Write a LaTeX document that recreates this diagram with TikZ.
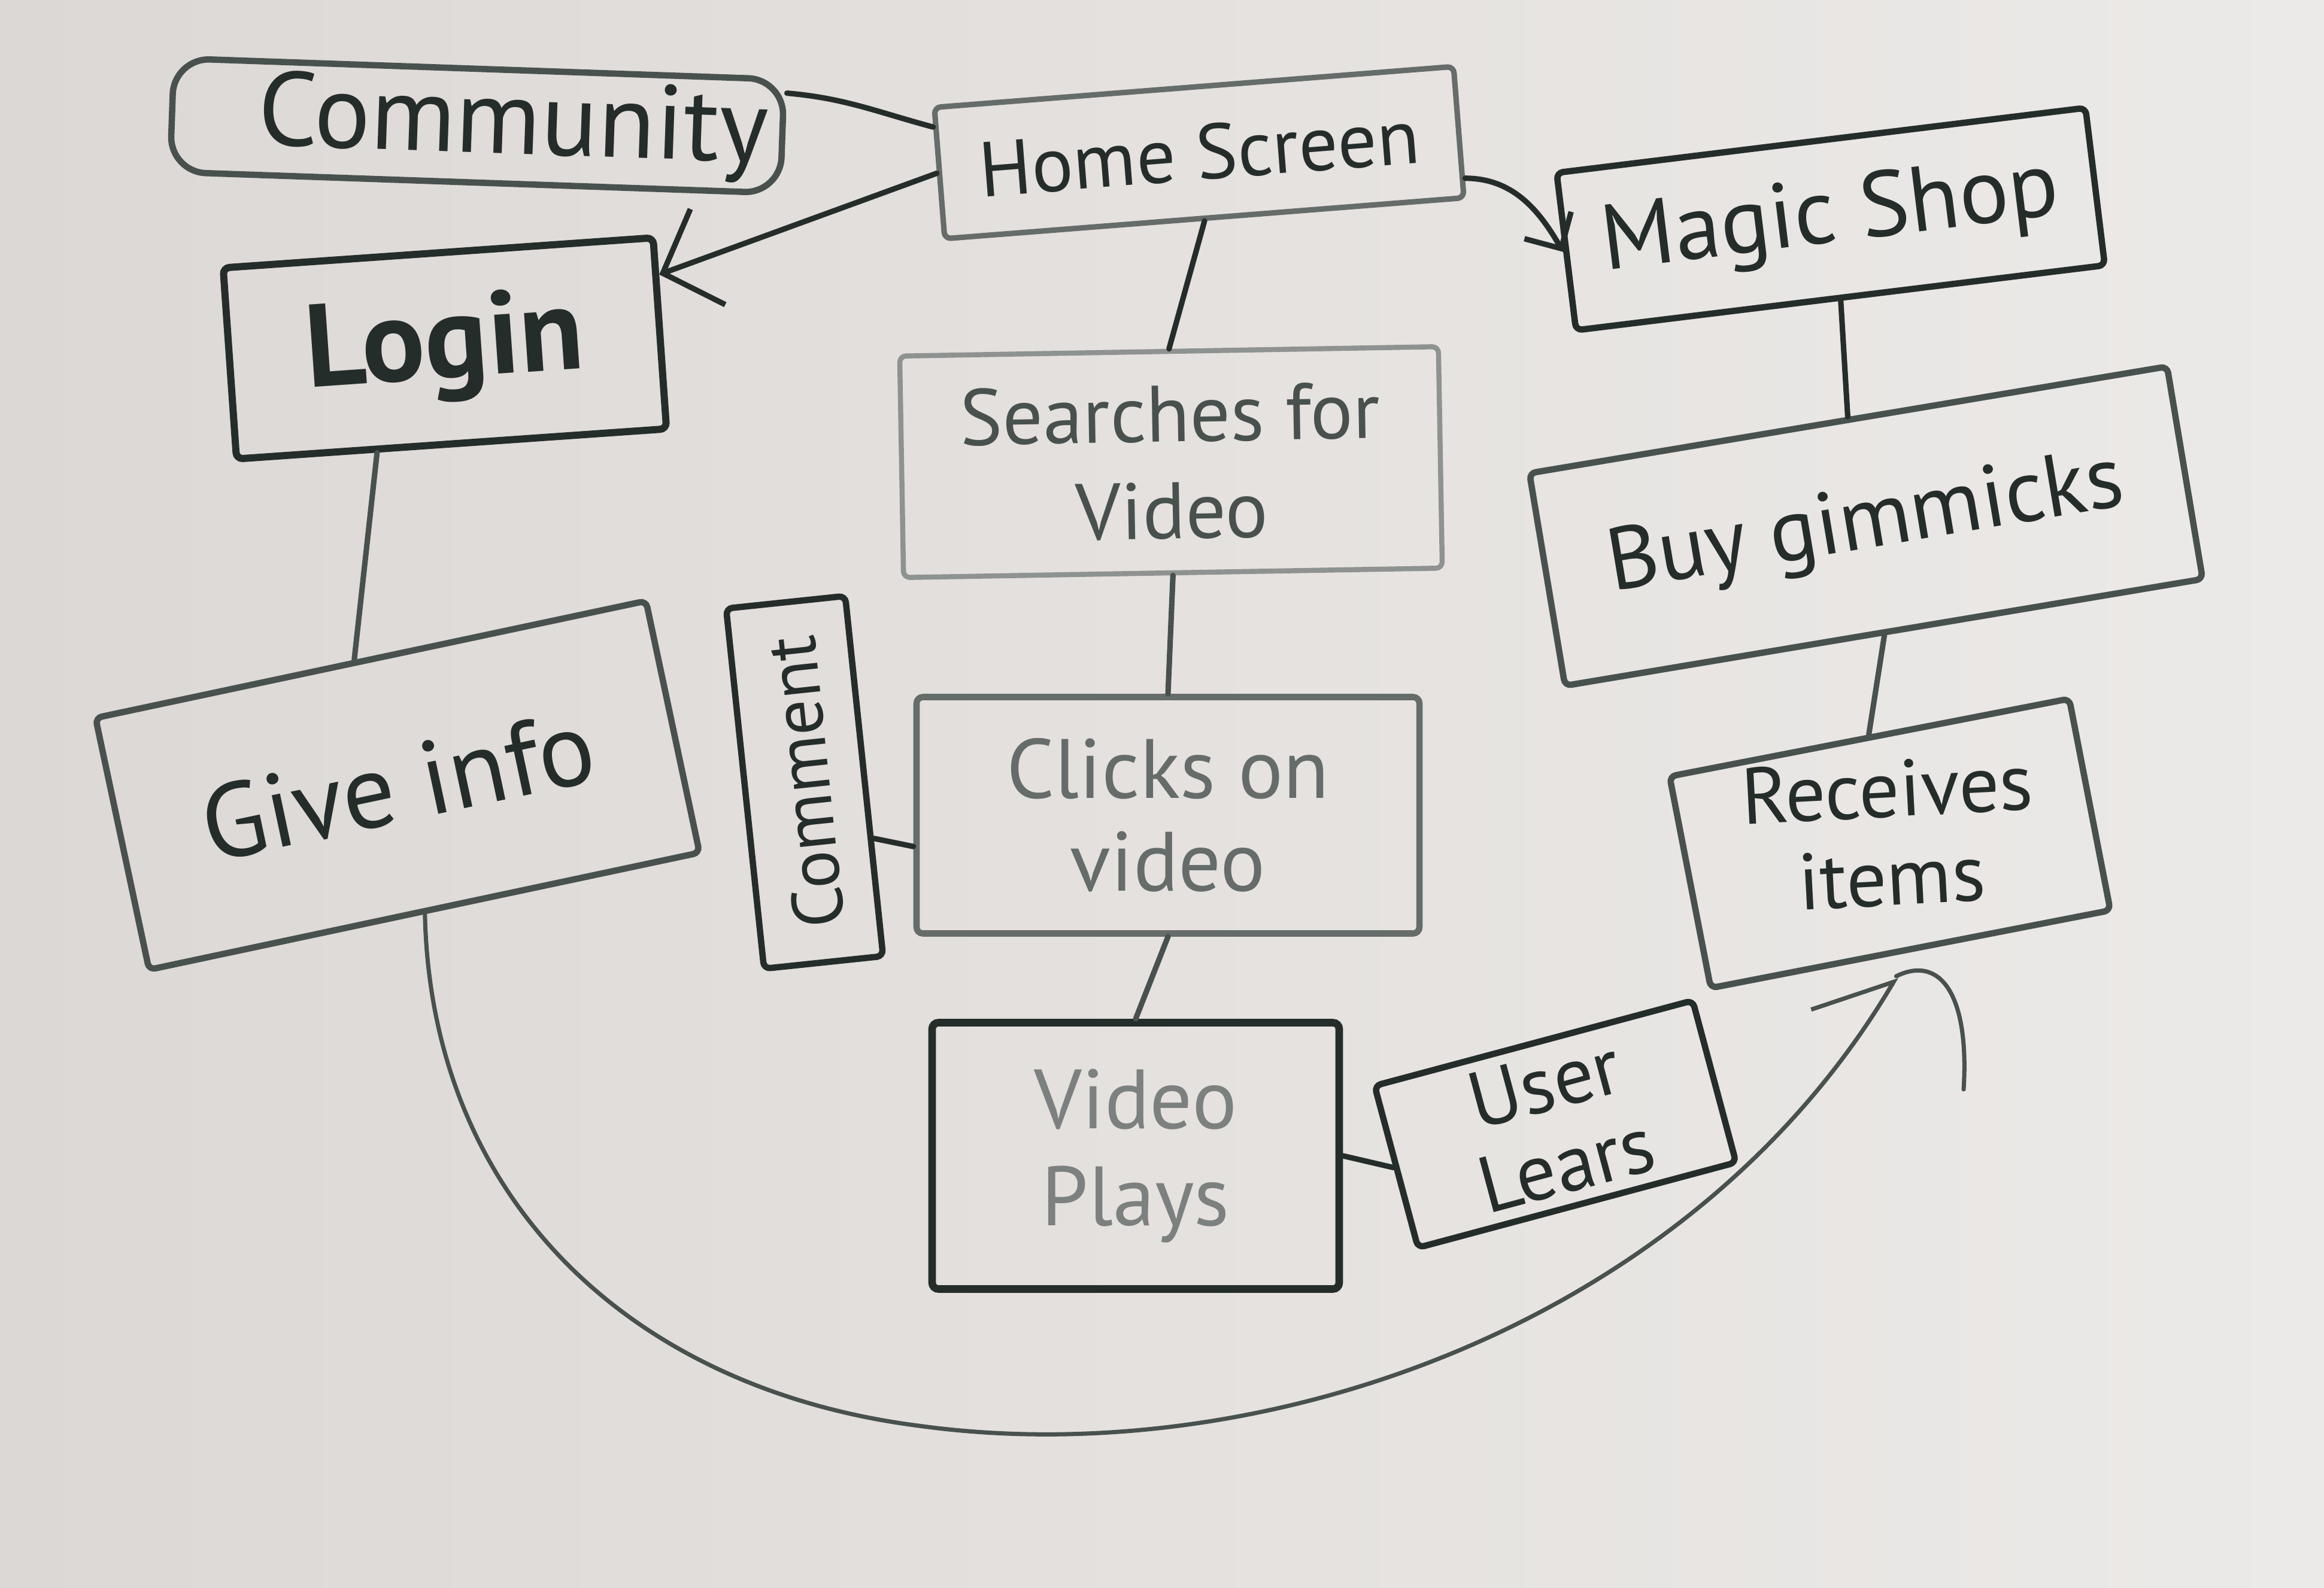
\documentclass[tikz,border=0pt]{standalone}
\usepackage{fontspec}
\setmainfont{PT Sans}
\usetikzlibrary{arrows.meta}
\definecolor{paperL}{HTML}{DCD8D5}
\definecolor{paperR}{HTML}{ECEAE8}
\definecolor{inkdark}{HTML}{252D2B}
\definecolor{inkmid}{HTML}{48514E}
\definecolor{inksoft}{HTML}{656C69}
\definecolor{inklight}{HTML}{8E9290}
\definecolor{txtlight}{HTML}{7C807E}
\begin{document}
\begin{tikzpicture}[
  box/.style={draw=inkdark, line width=3pt, rounded corners=3pt, inner sep=0pt,
    align=center, text=inkdark, font=\fontsize{40}{46}\selectfont},
  link/.style={draw=inkdark, line width=2.6pt, line cap=round},
  thinlink/.style={draw=inkmid, line width=2pt, line cap=round},
  bigbarb/.style={-{Straight Barb[length=0.8cm,width=1.7cm]}},
  smallbarb/.style={-{Straight Barb[length=0.45cm,width=0.9cm]}},
  halfbarb/.style={-{Straight Barb[left,length=1.1cm,width=1.9cm]}}
]
\useasboundingbox (0,0) rectangle (38.82,-26.53);
\shade[left color=paperL, right color=paperR] (0,0) rectangle (38.82,-26.53);

% boxes
\node[box, draw=inkmid, minimum width=10.2cm, minimum height=1.9cm, rounded corners=0.6cm,
  rotate=-2, font=\fontsize{50}{54}\selectfont] (community) at (7.97,-2.1)
  {\hspace*{1.2cm}Community};
\node[box, draw=inksoft, line width=2.6pt, minimum width=8.7cm, minimum height=2.2cm,
  rotate=4.5, font=\fontsize{37}{40}\selectfont] (home) at (20.03,-2.55) {Home Screen};
\node[box, minimum width=8.9cm, minimum height=2.65cm, rotate=7,
  font=\fontsize{44}{48}\selectfont] (magic) at (30.58,-3.66) {Magic Shop};
\node[box, line width=3.4pt, minimum width=7.2cm, minimum height=3.2cm, rotate=4,
  font=\bfseries\fontsize{56}{60}\selectfont] (login) at (7.43,-5.82) {Login};
\node[box, draw=inklight, line width=2.4pt, minimum width=9.0cm, minimum height=3.7cm,
  rotate=1, text=inkmid, font=\fontsize{38}{46}\selectfont] (search) at (19.56,-7.72)
  {Searches for\\Video};
\node[box, draw=inkmid, minimum width=10.8cm, minimum height=3.6cm, rotate=9.5,
  font=\fontsize{42}{48}\selectfont] (buy) at (31.17,-8.79) {Buy gimmicks};
\node[box, draw=inkmid, minimum width=9.4cm, minimum height=4.3cm, rotate=12,
  font=\fontsize{50}{56}\selectfont] (giveinfo) at (6.64,-13.12) {Give info};
\node[box, minimum width=6.05cm, minimum height=2.0cm, rotate=96,
  font=\fontsize{34}{40}\selectfont] (comment) at (13.44,-13.07) {Comment};
\node[box, draw=inksoft, minimum width=8.4cm, minimum height=3.95cm,
  text=inksoft, font=\fontsize{40}{44}\selectfont] (clicks) at (19.51,-13.62)
  {Clicks on\\video};
\node[box, draw=inkmid, minimum width=6.8cm, minimum height=3.45cm, rotate=11,
  font=\fontsize{38}{42}\selectfont] (receives) at (31.57,-14.09)
  {\rotatebox{-8}{\begin{tabular}{@{}c@{}}Receives\\items\end{tabular}}};
\node[box, line width=3.6pt, minimum width=6.8cm, minimum height=4.45cm,
  text=txtlight, font=\fontsize{40}{46}\selectfont] (plays) at (18.97,-19.31)
  {Video\\Plays};
\node[box, minimum width=5.5cm, minimum height=2.8cm, rotate=15,
  font=\fontsize{38}{40}\selectfont] (learns) at (25.98,-18.78) {User\\Lears};

% connectors
\draw[link] (home.170) to[out=165,in=-5] (community.8);
\draw[link, bigbarb] (home.west) -- (login.15);
\draw[link, smallbarb] (home.-10) to[out=0,in=120] (magic.west);
\draw[link] (home.south) -- (search.north);
\draw[link, draw=inkmid] (search.south) -- (clicks.north);
\draw[link] (clicks.187) -- (comment.225);
\draw[link, draw=inkmid] (clicks.south) -- (plays.north);
\draw[link] (plays.east) -- (learns.west);
\draw[link, draw=inkmid] (login.233) -- (giveinfo.97);
\draw[link] (magic.south) -- (buy.north);
\draw[link, draw=inkmid] (buy.south) -- (receives.north);

% long return path from the profile form to the received items
\draw[thinlink, halfbarb, shorten >=0.48cm] (giveinfo.south)
  .. controls (7.2,-20) and (10.5,-23.2) .. (15.35,-23.82)
  .. controls (21,-24.6) and (28.2,-22.2) .. (receives.south);
\coordinate (hookend) at (32.8,-18.2);
\draw[thinlink] ([shift={(-0.25,-0.4)}]receives.south)
  .. controls (32.4,-15.95) and (32.9,-16.6) .. (hookend);
\end{tikzpicture}
\end{document}
